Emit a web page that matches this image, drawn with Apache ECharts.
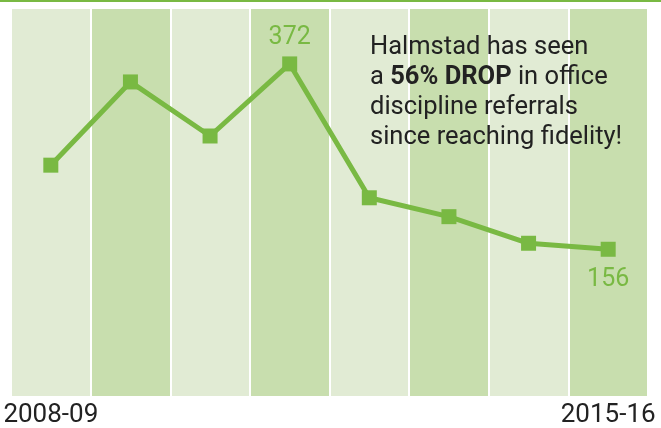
<!DOCTYPE html>
<html>
<head>
<meta charset="utf-8">
<script src="https://cdn.jsdelivr.net/npm/echarts@6/dist/echarts.min.js"></script>
<style>
  html, body { margin: 0; padding: 0; background: #fff; }
  #chart { width: 661px; height: 428px; }
</style>
</head>
<body>
<div id="chart"></div>
<script>
// school years and referral counts
const years = ["2008-09", "2009-10", "2010-11", "2011-12", "2012-13", "2013-14", "2014-15", "2015-16"];
const referrals = [254, 351, 288, 372, 216, 194, 163, 156];
const shownLabels = ["2008-09", "2015-16"];

const green = "#79b943";

const chart = echarts.init(document.getElementById("chart"), null, { renderer: "canvas" });

const option = {
  animation: false,
  title: {
    left: 365,
    top: 28,
    text: "Halmstad has seen\na {b|56% DROP} in office\ndiscipline referrals\nsince reaching fidelity!",
    textStyle: {
      fontFamily: "Roboto",
      fontSize: 25.5,
      fontWeight: "normal",
      lineHeight: 30,
      color: "#222",
      rich: {
        b: { fontFamily: "Roboto", fontSize: 25.5, fontWeight: "bold", color: "#222", lineHeight: 30 },
      },
    },
  },
  grid: { left: 11, right: 13, top: 9, bottom: 31 },
  xAxis: {
    type: "category",
    data: years,
    boundaryGap: true,
    axisLine: { show: false },
    axisTick: { show: false },
    axisLabel: {
      interval: 0,
      margin: 6,
      fontFamily: "Roboto",
      fontSize: 26,
      color: "#222",
      formatter: (v) => (shownLabels.includes(v) ? v : ""),
    },
    splitLine: { show: true, interval: 0, lineStyle: { color: "#fff", width: 2 } },
    splitArea: { show: true, interval: 0, areaStyle: { color: ["#e1ebd4", "#c8deae"] } },
  },
  yAxis: {
    type: "value",
    min: -15,
    max: 436,
    show: false,
    splitLine: { show: false },
  },
  series: [
    {
      type: "line",
      data: referrals.map((v, i) => ({
        value: v,
        label: {
          show: i === 3 || i === referrals.length - 1,
          position: i === 3 ? "top" : "bottom",
          distance: i === 3 ? 6 : 10,
        },
      })),
      symbol: "rect",
      symbolSize: 15,
      itemStyle: { color: green },
      lineStyle: { color: green, width: 5 },
      label: {
        fontFamily: "Roboto",
        fontSize: 25,
        color: green,
      },
    },
  ],
  graphic: [
    {
      type: "rect",
      left: 0,
      top: 0,
      shape: { width: 661, height: 2 },
      style: { fill: green },
    },
  ],
};

chart.setOption(option);
</script>
</body>
</html>
